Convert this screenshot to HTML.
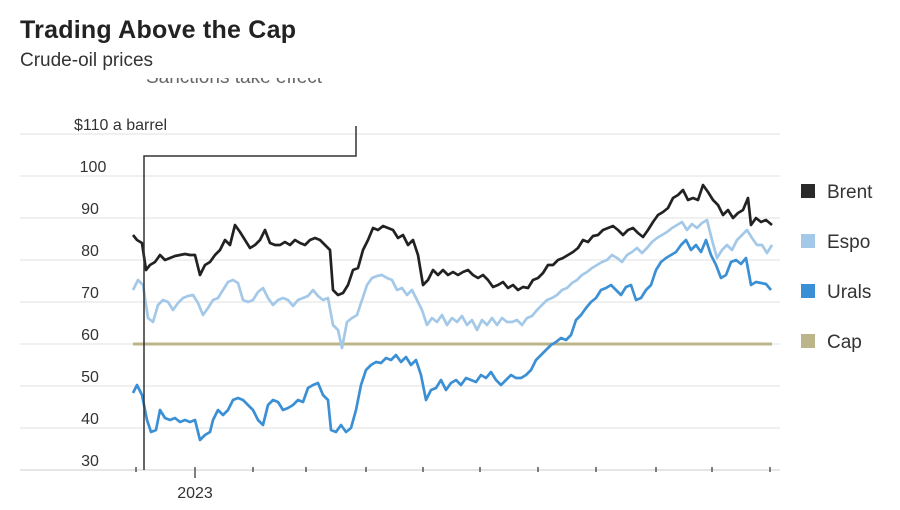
<!DOCTYPE html>
<html><head><meta charset="utf-8"><style>
html,body{margin:0;padding:0;background:#fff;}
svg{display:block;font-family:"Liberation Sans",sans-serif;}
</style></head><body>
<svg width="900" height="510" viewBox="0 0 900 510" xmlns="http://www.w3.org/2000/svg">
<text x="20" y="38" font-size="25" font-weight="bold" fill="#222" textLength="276">Trading Above the Cap</text>
<text x="20" y="66" font-size="19" fill="#333">Crude-oil prices</text>
<defs><clipPath id="c"><rect x="0" y="78" width="900" height="10"/></clipPath></defs>
<text x="146" y="83" font-size="19" fill="#666" clip-path="url(#c)">Sanctions take effect</text>
<g stroke="#e2e2e2" stroke-width="1">
<line x1="20" y1="134" x2="780" y2="134"/><line x1="20" y1="176" x2="780" y2="176"/>
<line x1="20" y1="218" x2="780" y2="218"/><line x1="20" y1="260" x2="780" y2="260"/>
<line x1="20" y1="302" x2="780" y2="302"/><line x1="20" y1="344" x2="780" y2="344"/>
<line x1="20" y1="386" x2="780" y2="386"/><line x1="20" y1="428" x2="780" y2="428"/>
</g>
<line x1="20" y1="470" x2="780" y2="470" stroke="#ccc"/>
<g font-size="16" fill="#333">
<text x="74" y="130">$110 a barrel</text>
<g text-anchor="middle">
<text x="93" y="172">100</text><text x="90" y="214">90</text><text x="90" y="256">80</text>
<text x="90" y="298">70</text><text x="90" y="340">60</text><text x="90" y="382">50</text>
<text x="90" y="424">40</text><text x="90" y="466">30</text>
<text x="195" y="498">2023</text></g></g>
<g stroke="#555" stroke-width="1.5">
<line x1="136" y1="467" x2="136" y2="472"/><line x1="195" y1="467" x2="195" y2="478"/>
<line x1="253" y1="467" x2="253" y2="472"/><line x1="306" y1="467" x2="306" y2="472"/>
<line x1="366" y1="467" x2="366" y2="472"/><line x1="423" y1="467" x2="423" y2="472"/>
<line x1="480" y1="467" x2="480" y2="472"/><line x1="538" y1="467" x2="538" y2="472"/>
<line x1="596" y1="467" x2="596" y2="472"/><line x1="656" y1="467" x2="656" y2="472"/>
<line x1="712" y1="467" x2="712" y2="472"/><line x1="770" y1="467" x2="770" y2="472"/>
</g>
<line x1="133" y1="344" x2="772" y2="344" stroke="#bdb58a" stroke-width="3"/>
<polyline fill="none" stroke="#a3c8e8" stroke-width="2.7" stroke-linejoin="round" points="133,290 138,280 143,285 148,318 153,322 158,305 163,300 168,302 173,310 178,303 183,298 188,296 193,295 198,303 203,315 208,308 213,300 218,298 223,290 228,282 233,280 238,283 243,300 248,302 253,300 258,292 263,288 268,298 273,305 278,300 283,298 288,300 293,306 298,300 303,298 308,296 313,290 318,296 323,300 328,298 333,325 338,330 342,348 347,322 352,318 357,315 362,300 367,285 372,278 377,276 382,275 387,278 392,280 397,290 402,288 407,295 412,290 417,300 422,310 427,325 432,318 437,322 442,315 447,325 452,318 457,322 462,316 467,325 472,320 477,330 482,320 487,325 492,318 497,325 502,318 507,322 512,322 517,320 522,325 527,318 532,316 537,310 542,305 547,300 552,298 557,295 562,290 567,288 572,283 577,280 582,275 587,272 592,268 597,265 602,262 607,260 612,255 617,258 622,262 627,255 632,252 637,248 642,253 647,248 652,242 657,238 662,235 667,232 672,228 677,225 682,222 687,230 692,224 697,228 702,223 707,220 712,240 717,258 722,250 727,245 732,250 737,240 742,235 747,230 752,238 757,245 762,245 767,253 772,245"/>
<polyline fill="none" stroke="#3b8fd4" stroke-width="2.7" stroke-linejoin="round" points="133,393 137,385 142,395 147,420 151,432 156,430 160,410 165,418 170,420 175,418 180,422 185,420 190,422 195,420 200,440 205,435 210,432 213,420 218,410 223,415 228,410 233,400 238,398 243,400 248,405 253,410 258,420 263,425 268,405 273,400 278,402 283,410 288,408 293,405 298,400 303,402 308,388 313,385 318,383 323,395 328,400 331,430 336,432 341,425 346,432 351,428 356,410 361,385 366,370 371,365 376,362 381,363 386,358 391,360 396,355 401,362 406,357 411,365 416,360 421,375 426,400 431,390 436,388 441,380 446,390 451,383 456,380 461,385 466,378 471,380 476,382 481,375 486,378 491,372 496,380 501,385 506,380 511,375 516,378 521,378 526,375 531,370 536,360 541,355 546,350 551,345 556,342 561,338 566,340 571,335 576,320 581,315 586,308 591,302 596,298 601,290 606,288 611,285 616,290 621,295 626,287 631,285 636,300 641,298 646,290 651,285 656,270 661,262 666,258 671,255 676,252 681,245 686,240 691,250 696,245 701,252 706,240 711,255 716,265 721,278 726,275 731,262 736,260 741,264 746,258 751,285 756,282 761,283 766,284 771,290"/>
<polyline fill="none" stroke="#222" stroke-width="2.7" stroke-linejoin="round" points="133,235 137,240 142,243 146,270 150,265 155,262 160,255 165,260 170,258 175,256 180,255 185,254 190,255 195,255 200,275 205,265 210,262 215,255 220,250 225,240 230,245 235,225 240,232 245,240 250,248 255,245 260,240 265,230 270,243 275,245 280,245 285,242 290,245 295,240 300,243 305,245 310,240 315,238 320,240 325,245 330,250 333,290 338,295 343,293 348,285 353,270 358,268 363,250 368,240 373,228 378,230 383,226 388,228 393,230 398,238 403,235 408,245 413,240 418,255 423,285 428,280 433,270 438,275 443,270 448,275 453,272 458,275 463,272 468,270 473,275 478,278 483,275 488,280 493,287 498,285 503,282 508,288 513,285 518,290 523,287 528,288 533,280 538,278 543,273 548,265 553,265 558,260 563,258 568,255 573,252 578,248 583,240 588,242 593,236 598,235 603,230 608,228 613,226 618,230 623,235 628,230 633,228 638,233 643,237 648,230 653,222 658,215 663,212 668,208 673,198 678,195 683,190 688,200 693,198 698,200 703,185 708,192 713,200 718,205 723,215 728,210 733,218 738,213 743,210 748,198 751,225 756,218 761,222 766,220 772,225"/>
<polyline fill="none" stroke="#333" stroke-width="1.5" points="144,470 144,156 356,156 356,126"/>
<rect x="801" y="184" width="14" height="14" fill="#2a2a2a"/>
<rect x="801" y="234" width="14" height="14" fill="#a3c8e8"/>
<rect x="801" y="284" width="14" height="14" fill="#3b8fd4"/>
<rect x="801" y="334" width="14" height="14" fill="#bdb58a"/>
<g font-size="19" fill="#333">
<text x="827" y="198">Brent</text><text x="827" y="248">Espo</text>
<text x="827" y="298">Urals</text><text x="827" y="348">Cap</text></g>
</svg>
</body></html>
